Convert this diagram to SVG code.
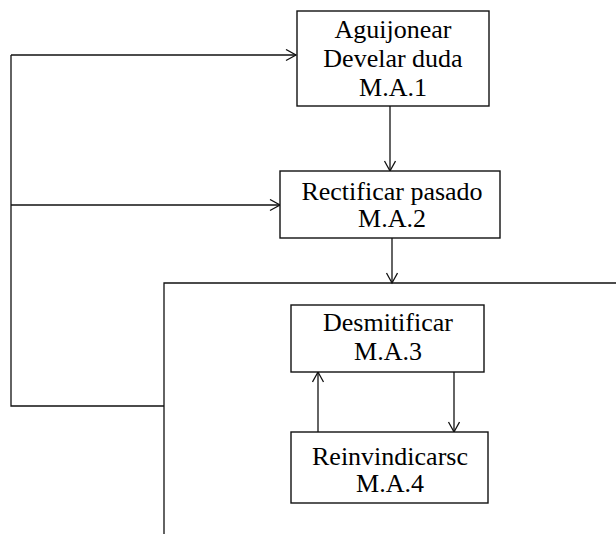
<svg xmlns="http://www.w3.org/2000/svg" width="616" height="534" viewBox="0 0 616 534">
<defs>
<marker id="arr" markerUnits="userSpaceOnUse" markerWidth="14" markerHeight="14" refX="11" refY="6" orient="auto">
<path d="M1,0.5 L11,6 L1,11.5" fill="none" stroke="#111" stroke-width="1.3"/>
</marker>
<style>
.box{fill:#fff;stroke:#111;stroke-width:1.4}
.ln{fill:none;stroke:#111;stroke-width:1.3}
.t{font-family:"Liberation Serif","Times New Roman",serif;font-size:26px;fill:#000;text-anchor:middle}
</style>
</defs>
<rect width="616" height="534" fill="#fff"/>
<g id="connectors">
<polyline class="ln" points="11,55 11,406 164,406"/>
<line class="ln" x1="11" y1="55" x2="296" y2="55" marker-end="url(#arr)"/>
<line class="ln" x1="11" y1="205" x2="280" y2="205" marker-end="url(#arr)"/>
<polyline class="ln" points="616,283 164,283 164,534"/>
<line class="ln" x1="390" y1="106" x2="390" y2="171" marker-end="url(#arr)"/>
<line class="ln" x1="392" y1="238" x2="392" y2="283" marker-end="url(#arr)"/>
<line class="ln" x1="318" y1="432" x2="318" y2="372" marker-end="url(#arr)"/>
<line class="ln" x1="454" y1="372" x2="454" y2="432" marker-end="url(#arr)"/>
</g>
<g id="n1">
<rect class="box" x="297" y="11" width="192" height="95"/>
<text class="t" x="393" y="38">Aguijonear</text>
<text class="t" x="393" y="67">Develar duda</text>
<text class="t" x="393" y="96">M.A.1</text>
</g>
<g id="n2">
<rect class="box" x="280" y="171" width="220" height="67"/>
<text class="t" x="392" y="200">Rectificar pasado</text>
<text class="t" x="392" y="227">M.A.2</text>
</g>
<g id="n3">
<rect class="box" x="291" y="305" width="193" height="67"/>
<text class="t" x="388" y="331">Desmitificar</text>
<text class="t" x="388" y="360">M.A.3</text>
</g>
<g id="n4">
<rect class="box" x="291" y="432" width="197" height="71"/>
<text class="t" x="390" y="465">Reinvindicarsc</text>
<text class="t" x="390" y="492">M.A.4</text>
</g>
</svg>
